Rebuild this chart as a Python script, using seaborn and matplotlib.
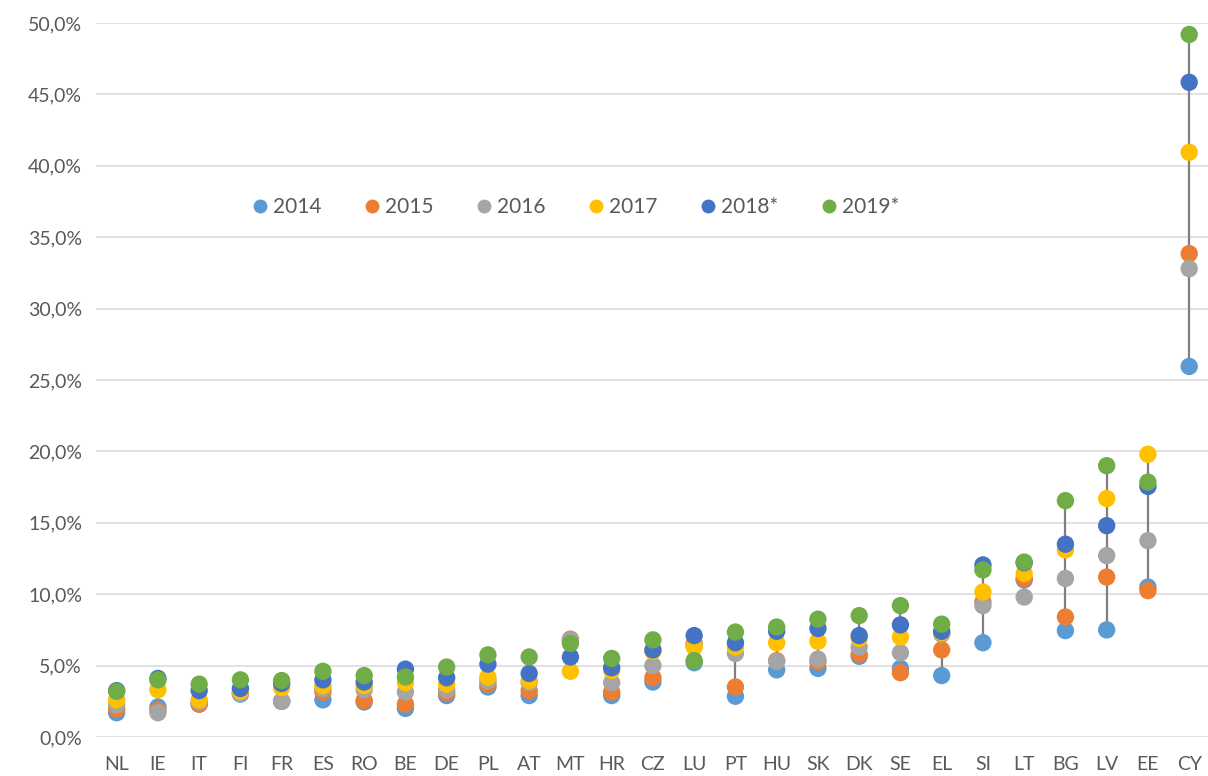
# Dot chart of yearly rates by country (2014-2019*)

import pandas as pd
import matplotlib
matplotlib.use("Agg")
import matplotlib.pyplot as plt
from matplotlib.ticker import FuncFormatter, MultipleLocator
import seaborn as sns

# -----------------------------
# Data (values in %)
# -----------------------------
countries = ["NL", "IE", "IT", "FI", "FR", "ES", "RO", "BE", "DE", "PL", "AT", "MT", "HR", "CZ",
             "LU", "PT", "HU", "SK", "DK", "SE", "EL", "SI", "LT", "BG", "LV", "EE", "CY"]

years = ["2014", "2015", "2016", "2017", "2018*", "2019*"]

y2014 = [1.7, 2.1, 2.3, 3.0, 2.5, 2.6, 2.45, 2.0, 2.9, 3.5, 2.9, 6.7, 2.9, 3.85,
         5.2, 2.85, 4.7, 4.8, 5.65, 4.8, 4.3, 6.6, 11.0, 7.45, 7.5, 10.5, 25.95]
y2015 = [1.95, 1.85, 2.3, 3.1, 2.5, 3.15, 2.55, 2.3, 3.1, 3.7, 3.25, 6.85, 3.15, 4.15,
         6.55, 3.5, 5.35, 5.25, 5.8, 4.5, 6.1, 9.45, 11.1, 8.4, 11.2, 10.25, 33.85]
y2016 = [2.25, 1.7, 2.45, 3.05, 2.5, 3.4, 3.3, 3.15, 3.3, 3.95, 3.8, 6.8, 3.8, 5.0,
         6.4, 5.85, 5.3, 5.45, 6.3, 5.9, 7.2, 9.2, 9.8, 11.1, 12.7, 13.75, 32.8]
y2017 = [2.6, 3.3, 2.6, 3.2, 3.45, 3.6, 3.6, 3.8, 3.7, 4.2, 3.95, 4.6, 4.65, 6.0,
         6.3, 6.3, 6.6, 6.7, 6.9, 7.0, 7.3, 10.15, 11.45, 13.1, 16.7, 19.8, 40.95]
y2018 = [3.25, 4.1, 3.25, 3.4, 3.75, 4.0, 3.85, 4.75, 4.15, 5.1, 4.45, 5.6, 4.85, 6.1,
         7.1, 6.6, 7.4, 7.6, 7.1, 7.85, 7.4, 12.05, 12.2, 13.5, 14.8, 17.55, 45.85]
y2019 = [3.2, 4.0, 3.7, 4.0, 3.95, 4.6, 4.3, 4.2, 4.9, 5.75, 5.6, 6.55, 5.5, 6.8,
         5.35, 7.35, 7.7, 8.25, 8.5, 9.2, 7.9, 11.7, 12.25, 16.55, 19.0, 17.85, 49.2]

colors = ["#5B9BD5", "#ED7D31", "#A5A5A5", "#FFC000", "#4472C4", "#70AD47"]

# long format table for seaborn
series = [y2014, y2015, y2016, y2017, y2018, y2019]
rows = []
for year, vals in zip(years, series):
    for c, v in zip(countries, vals):
        rows.append({"country": c, "year": year, "value": v})
df = pd.DataFrame(rows)

wide = pd.DataFrame(dict(zip(years, series)), index=countries)
lows = wide.min(axis=1)
highs = wide.max(axis=1)

# -----------------------------
# Plot
# -----------------------------
sns.set_style("white")
plt.rcParams["font.family"] = ["Lato", "DejaVu Sans"]

fig = plt.figure(figsize=(12.08, 7.76), dpi=100)
ax = fig.add_axes([0.0795, 0.0503, 0.922, 0.920])

ax.yaxis.grid(True, color="#D9D9D9", linewidth=1.1)
ax.set_axisbelow(True)

# high-low lines
ax.vlines(range(len(countries)), lows, highs, color="#7F7F7F", linewidth=1.6, zorder=2)

sns.stripplot(data=df, x="country", y="value", hue="year", order=countries,
              hue_order=years, palette=colors, jitter=False, dodge=False,
              size=12.5, linewidth=0, ax=ax, zorder=3)

ax.set_xlim(-0.5, len(countries) - 0.5)
ax.set_ylim(0, 50)
ax.yaxis.set_major_locator(MultipleLocator(5))
ax.yaxis.set_major_formatter(FuncFormatter(lambda v, p: f"{v:.1f}%".replace(".", ",")))

ax.set_xlabel("")
ax.set_ylabel("")
for s in ax.spines.values():
    s.set_visible(False)
ax.tick_params(axis="both", length=0, labelsize=14, labelcolor="#595959")
ax.tick_params(axis="x", pad=14)
ax.tick_params(axis="y", pad=10)

sns.move_legend(ax, loc="center left", bbox_to_anchor=(0.132, 0.742), ncol=6,
                frameon=False, title=None, fontsize=15, handlelength=0.8,
                handletextpad=0.25, columnspacing=2.0, markerscale=0.8, borderaxespad=0)
for t in ax.get_legend().get_texts():
    t.set_color("#595959")

plt.savefig("out.png", dpi=100)
